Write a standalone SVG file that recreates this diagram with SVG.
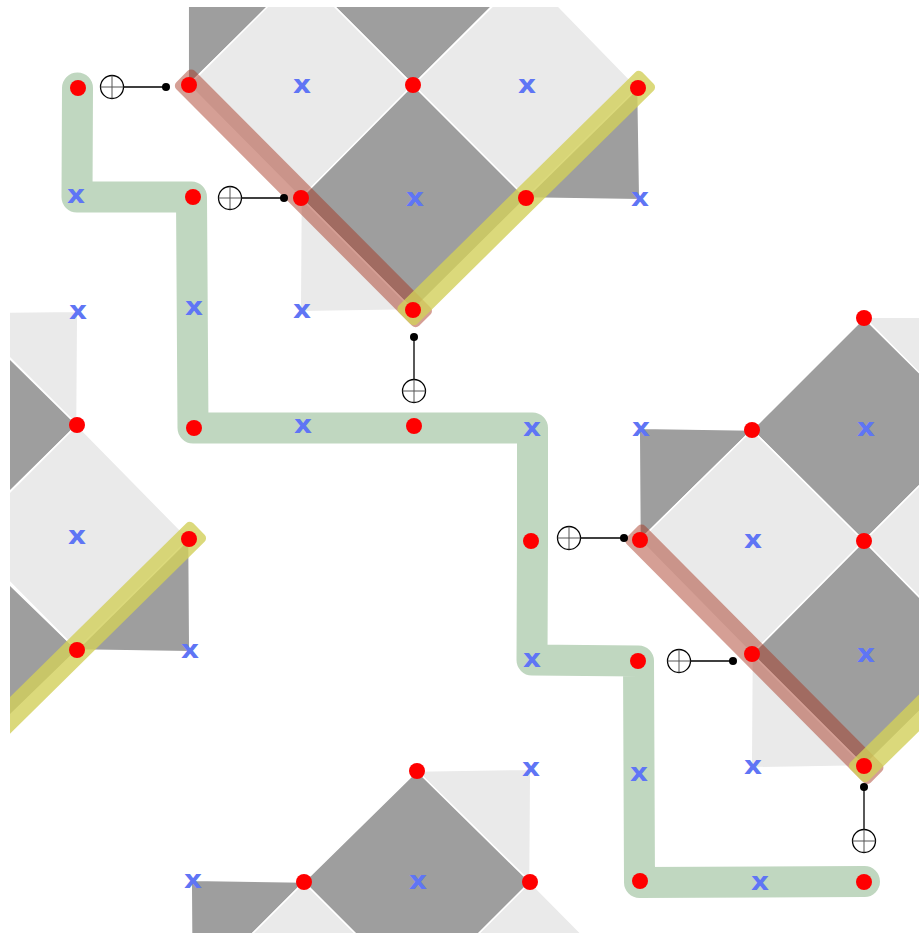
<svg xmlns="http://www.w3.org/2000/svg" width="919" height="935" viewBox="0 0 919 935">
<style>
.d{fill:#9e9e9e;stroke:#fff;stroke-width:1.5}
.l{fill:#eaeaea;stroke:#fff;stroke-width:1.5}
.r{fill:#f00}
.x{font-family:"DejaVu Sans",sans-serif;font-weight:bold;font-size:24.5px;fill:#5f75f5;text-anchor:middle}
.band-r{fill:#a5321e;fill-opacity:.47}
.band-y{fill:#d2cf5a;fill-opacity:.8}
.t{fill:none;stroke:#000;stroke-width:1.3}
.c{fill:none;stroke:#555;stroke-width:1}
</style>
<defs>
<clipPath id="page"><rect x="10" y="7" width="909" height="926"/></clipPath>
<g id="oplus"><circle r="11.5" fill="#fff" stroke="#000" stroke-width="1.3"/><path d="M-11.5 0H11.5M0-11.5V11.5" class="c"/></g>
</defs>
<g id="tiles" clip-path="url(#page)">
<g id="tile-top">
<polygon class="d" points="188.2,85 188.2,0 275,0"/>
<polygon class="d" points="328,0 413,85 498,0"/>
<polygon class="l" points="189,85 301,-27 413,85 301,198"/>
<polygon class="l" points="413,85 526,-27 638,88 526,198"/>
<polygon class="d" points="301,198 413,85 526,198 413,310"/>
<polygon class="d" points="638,88 639.8,199.8 526,198"/>
<polygon class="l" points="301,198 300.2,311.8 413,310"/>
</g>
<g id="tile-left">
<polygon class="l" points="0,312.2 77.8,311.2 77,425 0,348"/>
<polygon class="d" points="-60,425 10,359 77,425 10,491"/>
<polygon class="d" points="-60,650 10,585 77,650 10,715"/>
<polygon class="l" points="-35,537 77,425 189,539 77,650"/>
<polygon class="d" points="189,539 189.8,651.8 77,650"/>
</g>
<g id="tile-right">
<polygon class="l" points="864,317.2 930,317.2 930,384"/>
<polygon class="d" points="752,430 864,318 976,429 864,541"/>
<polygon class="d" points="639.2,428.2 752,430 640,540"/>
<polygon class="l" points="864,541 976,429 1088,541 976,654"/>
<polygon class="l" points="640,540 752,430 864,541 752,654"/>
<polygon class="d" points="752,654 864,541 976,655 864,766"/>
<polygon class="l" points="752,654 751.2,767.8 864,766"/>
</g>
<g id="tile-bottom">
<polygon class="l" points="417,771 530.8,769.2 530,882"/>
<polygon class="d" points="191.2,880.2 304,882 192,994"/>
<polygon class="l" points="304,882 417,995 304,1108 192,994"/>
<polygon class="l" points="530,882 642,995 530,1108 417,995"/>
<polygon class="d" points="417,771 530,882 417,995 304,882"/>
</g>
</g>
<g id="bands" clip-path="url(#page)">
<rect class="band-r" x="0" y="-13" width="344" height="26" rx="5" transform="translate(182,76.5) rotate(45.1)"/>
<rect class="band-r" x="0" y="-13" width="346" height="26" rx="5" transform="translate(632.5,531.5) rotate(45.2)"/>
<rect class="band-y" x="0" y="-13" width="342" height="26" rx="5" transform="translate(648,78) rotate(135.4)"/>
<rect class="band-y" x="0" y="-13" width="342" height="26" rx="5" transform="translate(199,529) rotate(135.4)"/>
<rect class="band-y" x="0" y="-13" width="342" height="26" rx="5" transform="translate(856,775) rotate(-44.6)"/>
</g>
<g id="connectors">
<path d="M77.5 88L77 197H191.5L193 428H532.5V541L532 660L638.5 661L639.5 882.5L864.5 881.5" fill="none" stroke="#c0d7c0" stroke-width="31" stroke-linecap="round" stroke-linejoin="round"/>
<path class="t" d="M123 87H166M241 198H284M414 380V337M580 538H624M690 661H733M864 830V787"/>
</g>
<g id="operators">
<g id="op1"><use href="#oplus" x="112" y="87"/><circle cx="166" cy="87" r="4"/></g>
<g id="op2"><use href="#oplus" x="230" y="198"/><circle cx="284" cy="198" r="4"/></g>
<g id="op3"><use href="#oplus" x="414" y="391"/><circle cx="414" cy="337" r="4"/></g>
<g id="op4"><use href="#oplus" x="569" y="538"/><circle cx="624" cy="538" r="4"/></g>
<g id="op5"><use href="#oplus" x="679" y="661"/><circle cx="733" cy="661" r="4"/></g>
<g id="op6"><use href="#oplus" x="864" y="841"/><circle cx="864" cy="787" r="4"/></g>
</g>
<g id="dots">
<circle class="r" cx="78" cy="88" r="8"/><circle class="r" cx="193" cy="197" r="8"/><circle class="r" cx="194" cy="428" r="8"/><circle class="r" cx="414" cy="426" r="8"/><circle class="r" cx="531" cy="541" r="8"/><circle class="r" cx="638" cy="661" r="8"/><circle class="r" cx="640" cy="881" r="8"/><circle class="r" cx="864" cy="882" r="8"/>
<circle class="r" cx="189" cy="85" r="8"/><circle class="r" cx="413" cy="85" r="8"/><circle class="r" cx="638" cy="88" r="8"/><circle class="r" cx="301" cy="198" r="8"/><circle class="r" cx="526" cy="198" r="8"/><circle class="r" cx="413" cy="310" r="8"/>
<circle class="r" cx="77" cy="425" r="8"/><circle class="r" cx="189" cy="539" r="8"/><circle class="r" cx="77" cy="650" r="8"/>
<circle class="r" cx="864" cy="318" r="8"/><circle class="r" cx="752" cy="430" r="8"/><circle class="r" cx="864" cy="541" r="8"/><circle class="r" cx="640" cy="540" r="8"/><circle class="r" cx="752" cy="654" r="8"/><circle class="r" cx="864" cy="766" r="8"/>
<circle class="r" cx="417" cy="771" r="8"/><circle class="r" cx="304" cy="882" r="8"/><circle class="r" cx="530" cy="882" r="8"/>
</g>
<g id="labels">
<text class="x" textLength="18" lengthAdjust="spacingAndGlyphs" x="76" y="203">x</text><text class="x" textLength="18" lengthAdjust="spacingAndGlyphs" x="194" y="315">x</text><text class="x" textLength="18" lengthAdjust="spacingAndGlyphs" x="303" y="433">x</text><text class="x" textLength="18" lengthAdjust="spacingAndGlyphs" x="532" y="436">x</text><text class="x" textLength="18" lengthAdjust="spacingAndGlyphs" x="532" y="667">x</text><text class="x" textLength="18" lengthAdjust="spacingAndGlyphs" x="639" y="781">x</text><text class="x" textLength="18" lengthAdjust="spacingAndGlyphs" x="760" y="890">x</text>
<text class="x" textLength="18" lengthAdjust="spacingAndGlyphs" x="302" y="93">x</text><text class="x" textLength="18" lengthAdjust="spacingAndGlyphs" x="527" y="93">x</text><text class="x" textLength="18" lengthAdjust="spacingAndGlyphs" x="415" y="206">x</text><text class="x" textLength="18" lengthAdjust="spacingAndGlyphs" x="640" y="206">x</text><text class="x" textLength="18" lengthAdjust="spacingAndGlyphs" x="302" y="318">x</text>
<text class="x" textLength="18" lengthAdjust="spacingAndGlyphs" x="78" y="319">x</text><text class="x" textLength="18" lengthAdjust="spacingAndGlyphs" x="77" y="544">x</text><text class="x" textLength="18" lengthAdjust="spacingAndGlyphs" x="190" y="658">x</text>
<text class="x" textLength="18" lengthAdjust="spacingAndGlyphs" x="641" y="436">x</text><text class="x" textLength="18" lengthAdjust="spacingAndGlyphs" x="866" y="436">x</text><text class="x" textLength="18" lengthAdjust="spacingAndGlyphs" x="753" y="548">x</text><text class="x" textLength="18" lengthAdjust="spacingAndGlyphs" x="866" y="662">x</text><text class="x" textLength="18" lengthAdjust="spacingAndGlyphs" x="753" y="774">x</text>
<text class="x" textLength="18" lengthAdjust="spacingAndGlyphs" x="531" y="776">x</text><text class="x" textLength="18" lengthAdjust="spacingAndGlyphs" x="193" y="888">x</text><text class="x" textLength="18" lengthAdjust="spacingAndGlyphs" x="418" y="889">x</text>
</g>
</svg>
